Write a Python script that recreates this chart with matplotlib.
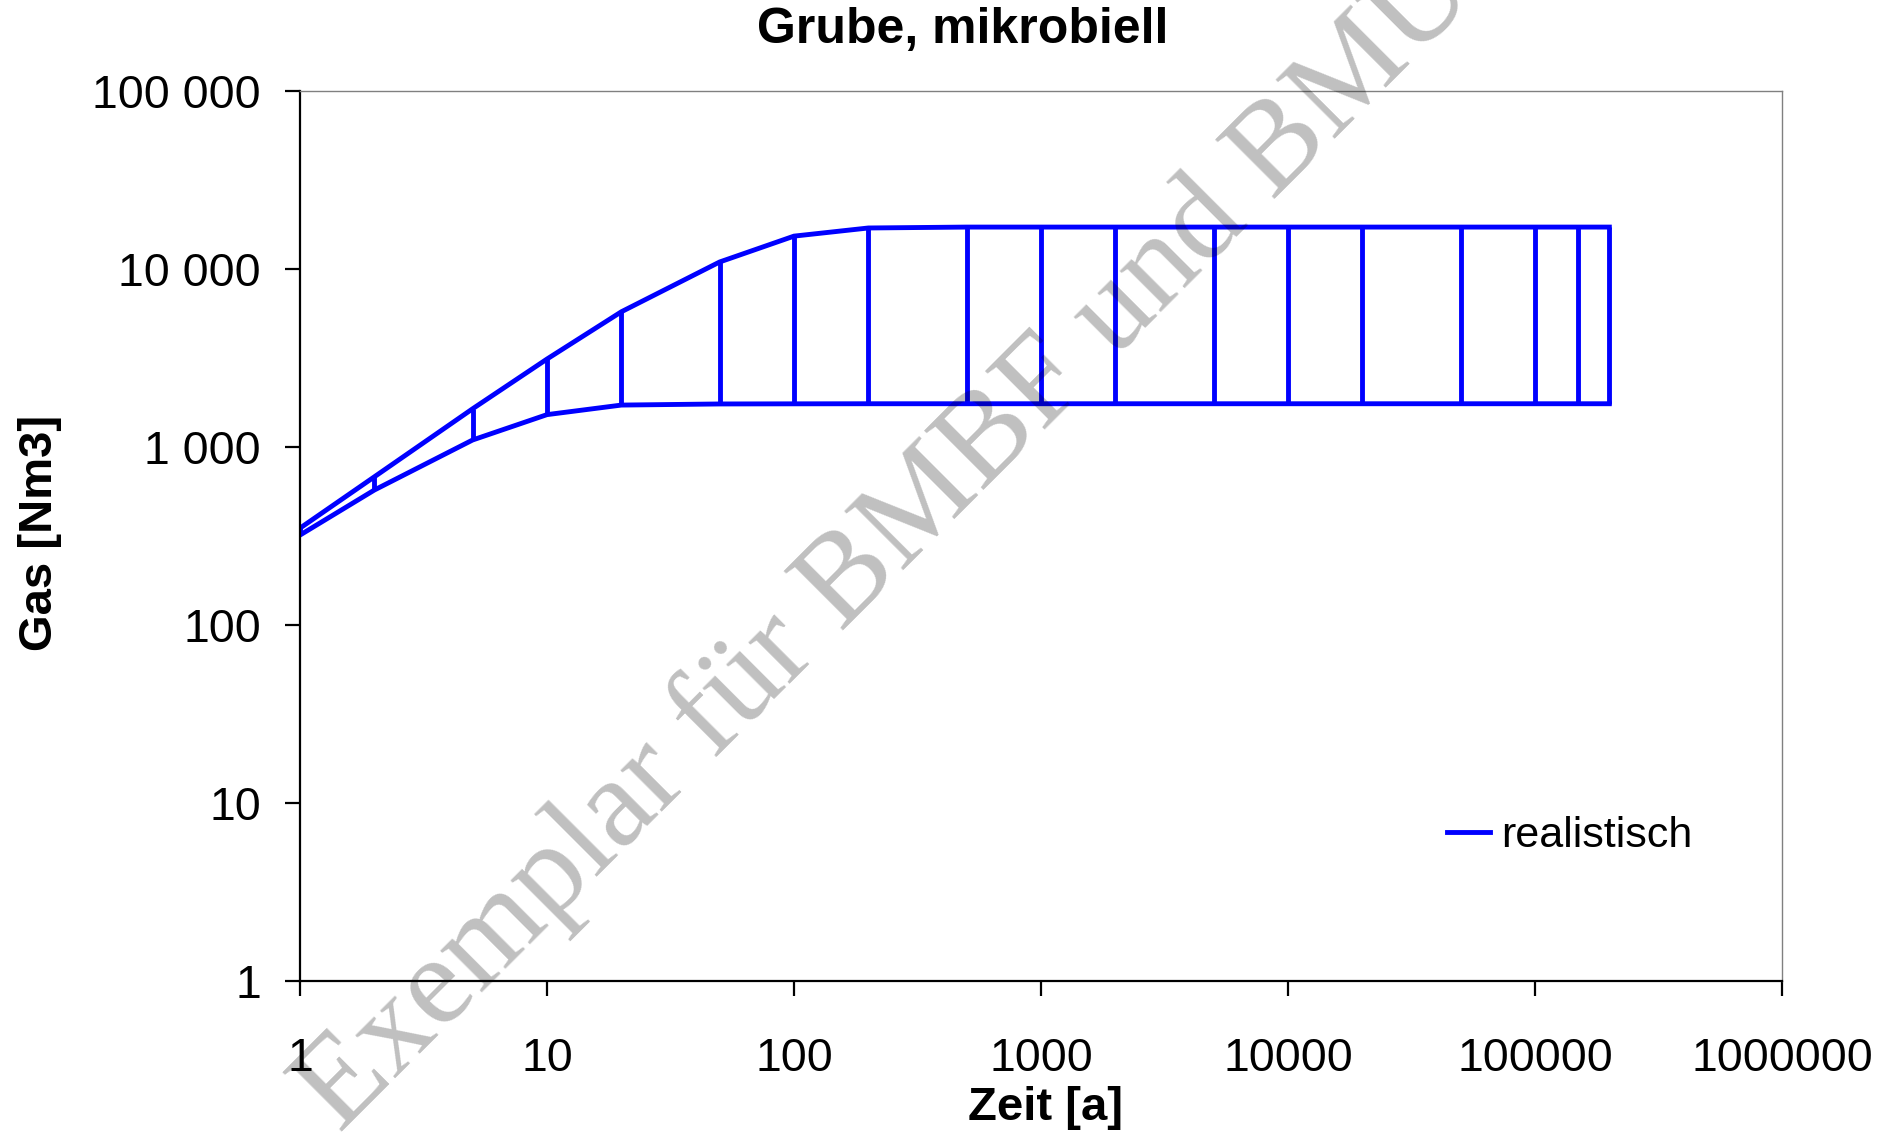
import matplotlib
matplotlib.use("Agg")
import matplotlib.pyplot as plt
from matplotlib.lines import Line2D
from matplotlib.ticker import FixedLocator, FixedFormatter, NullLocator

plt.rcParams['font.family'] = ['Liberation Sans', 'DejaVu Sans']

# Data
zeit = [1, 2, 5, 10, 20, 50, 100, 200, 500, 1000, 2000, 5000,
        10000, 20000, 50000, 100000, 150000, 200000]
gas_oben = [350, 680, 1640, 3120, 5750, 10950, 15300, 17000, 17200, 17200,
            17200, 17200, 17200, 17200, 17200, 17200, 17200, 17200]
gas_unten = [320, 573, 1095, 1520, 1720, 1745, 1748, 1750, 1750, 1750,
             1750, 1750, 1750, 1750, 1750, 1750, 1750, 1750]
series_name = "realistisch"
y_ticks = [1, 10, 100, 1000, 10000, 100000]
y_labels = ["1", "10", "100", "1 000", "10 000", "100 000"]
x_ticks = [1, 10, 100, 1000, 10000, 100000, 1000000]
x_labels = ["1", "10", "100", "1000", "10000", "100000", "1000000"]

W, H = 1899, 1141
fig = plt.figure(figsize=(W / 100, H / 100), dpi=100)
ax = fig.add_axes([300 / W, 1 - 981 / H, (1782 - 300) / W, (981 - 91) / H])

blue = '#0000FF'
lw = 3.5
ax.plot(zeit, gas_oben, color=blue, lw=lw, solid_joinstyle='miter')
ax.plot(zeit, gas_unten, color=blue, lw=lw, solid_joinstyle='miter')
ax.vlines(zeit, gas_unten, gas_oben, color=blue, lw=lw)

ax.set_xscale('log')
ax.set_yscale('log')
ax.set_xlim(1, 1000000)
ax.set_ylim(1, 100000)

ax.xaxis.set_major_locator(FixedLocator(x_ticks))
ax.xaxis.set_major_formatter(FixedFormatter(x_labels))
ax.yaxis.set_major_locator(FixedLocator(y_ticks))
ax.yaxis.set_major_formatter(FixedFormatter(y_labels))
ax.xaxis.set_minor_locator(NullLocator())
ax.yaxis.set_minor_locator(NullLocator())

ax.tick_params(axis='both', which='major', direction='out', length=11,
               width=1.6, labelsize=33.5, color='black')
ax.tick_params(axis='x', pad=29)
ax.tick_params(axis='y', pad=17)

for s in ['left', 'bottom']:
    ax.spines[s].set_linewidth(1.6)
    ax.spines[s].set_color('black')
for s in ['top', 'right']:
    ax.spines[s].set_linewidth(1.0)
    ax.spines[s].set_color('#808080')

fig.text(963 / W, 1 - 30 / H, "Grube, mikrobiell", ha='center', va='center',
         fontsize=36, fontweight='bold')
fig.text(1046 / W, 1 - 1108 / H, "Zeit [a]", ha='center', va='center',
         fontsize=34, fontweight='bold')
fig.text(40 / W, 1 - 533 / H, "Gas [Nm3]", ha='center', va='center',
         fontsize=34, fontweight='bold', rotation=90)

handle = Line2D([], [], color=blue, lw=lw)
leg = ax.legend([handle], [series_name], loc='center left',
                bbox_to_anchor=(1447 / W, 1 - 836 / H), bbox_transform=fig.transFigure,
                frameon=False, fontsize=31, handlelength=1.0, handletextpad=0.25,
                borderaxespad=0, borderpad=0)

# watermark
fig.text(340 / W, 1 - 1134 / H, "Exemplar für BMBF und BMU",
         ha='left', va='baseline', rotation=45, rotation_mode='anchor',
         fontsize=92, family=['Liberation Serif', 'DejaVu Serif'],
         color='black', alpha=0.25, zorder=10)

fig.savefig('out.png', dpi=100)
